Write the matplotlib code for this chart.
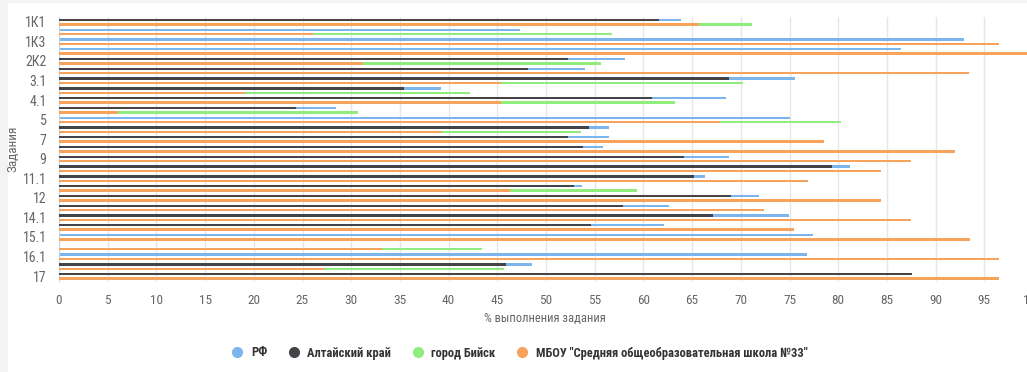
import numpy as np
import matplotlib
matplotlib.use('Agg')
import matplotlib.pyplot as plt
from matplotlib import font_manager
from matplotlib.lines import Line2D
from matplotlib.patches import Rectangle

# pick a narrow / condensed sans face (regular weight preferred) if one is installed
def _is_cond(f):
    return (f.stretch in ('condensed', 'semi-condensed', 'extra-condensed')
            or 'Narrow' in f.name or 'Condensed' in f.name)

def _is_regular(f):
    return f.style == 'normal' and f.weight in (400, 'normal', 'regular', 'book')

cands = [f for f in font_manager.fontManager.ttflist if _is_cond(f)]
cond = None
for pool in ([f for f in cands if _is_regular(f)], cands):
    for pref in ['Liberation Sans Narrow', 'Noto Sans', 'Open Sans', 'Roboto', 'DejaVu Sans']:
        for f in pool:
            if f.name.startswith(pref):
                cond = f
                break
        if cond is not None:
            break
    if cond is not None:
        break
if cond is not None:
    plt.rcParams['font.family'] = [cond.name, 'DejaVu Sans']
    plt.rcParams['font.stretch'] = cond.stretch
    FS = 1.0
else:
    plt.rcParams['font.family'] = ['Roboto', 'DejaVu Sans']
    FS = 0.8

nan = np.nan
categories = ['1К1', '1К2', '1К3', '2К1', '2К2', '2К3', '3.1', '3.2', '4.1', '4.2',
              '5', '6', '7', '8', '9', '10', '11.1', '11.2', '12', '13',
              '14.1', '14.2', '15.1', '15.2', '16.1', '16.2', '17']
rf = [63.9, 47.3, 92.9, 86.4, 58.1, 54.0, 75.6, 39.2, 68.5, 28.4,
      75.0, 56.5, 56.5, 55.9, 68.8, 81.2, 66.3, 53.7, 71.9, 62.6,
      74.9, 62.1, 77.4, nan, 76.8, 48.6, nan]
altai = [61.6, nan, nan, nan, 52.3, 48.2, 68.8, 35.4, 60.9, 24.3,
         nan, 54.4, 52.3, 53.8, 64.2, 79.4, 65.2, 52.9, 69.0, 57.9,
         67.1, 54.6, nan, nan, nan, 45.9, 87.6]
biysk = [71.1, 56.8, nan, nan, 55.6, 55.0, 70.2, 42.2, 63.2, 30.7,
         80.3, 53.6, nan, 55.9, 62.3, 78.9, nan, 59.3, nan, nan,
         nan, nan, 78.9, 43.4, 76.9, 45.7, nan]
school = [65.7, 26.1, 96.5, 100.0, 31.2, 93.4, 45.4, 19.1, 45.4, 6.1,
          67.9, 39.3, 78.5, 92.0, 87.5, 84.4, 76.9, 46.3, 84.4, 72.4,
          87.5, 75.5, 93.5, 33.2, 96.5, 27.2, 96.5]
series_names = ['РФ', 'Алтайский край', 'город Бийск',
                'МБОУ "Средняя общеобразовательная школа №33"']
colors = ['#7cb5ec', '#434348', '#90ed7d', '#f7a35c']
x_ticks = list(range(0, 101, 5))

W, H = 1027, 372
fig = plt.figure(figsize=(W / 100, H / 100), dpi=100)
fig.patch.set_facecolor('white')
fig.add_artist(Rectangle((0, 0), 8 / W, 1, transform=fig.transFigure,
                         facecolor='#f3f3f3', edgecolor='none', zorder=0))
fig.add_artist(Rectangle((0, 1 - 3 / H), 1, 3 / H, transform=fig.transFigure,
                         facecolor='#f3f3f3', edgecolor='none', zorder=0))

left, right, top, bottom = 59, 1033, 17, 281
ax = fig.add_axes([left / W, 1 - bottom / H, (right - left) / W, (bottom - top) / H])
ax.set_facecolor('white')

y = np.arange(len(categories))
h = 0.24
ax.barh(y - 0.2, rf, height=h, color=colors[0], zorder=2)
ax.barh(y - 0.2, altai, height=h, color=colors[1], zorder=3)
ax.barh(y + 0.25, biysk, height=h, color=colors[2], zorder=4)
ax.barh(y + 0.25, school, height=h, color=colors[3], zorder=5)

ax.set_xlim(0, 100)
ax.set_ylim(len(categories) - 0.5, -0.5)
ax.set_xticks(x_ticks)
ax.set_xticklabels([str(t) for t in x_ticks])
ax.set_yticks(y[::2])
ax.set_yticklabels(categories[::2])
ax.grid(axis='x', color='#e6e6e6', linewidth=1, zorder=0)
ax.set_axisbelow(True)
for s in ['top', 'right', 'bottom']:
    ax.spines[s].set_visible(False)
ax.spines['left'].set_color('#ccd6eb')
ax.tick_params(axis='x', length=0, pad=9, labelsize=9.5 * FS, labelcolor='#666666')
ax.tick_params(axis='y', length=0, pad=9, labelsize=10 * FS, labelcolor='#666666')

ax.set_xlabel('% выполнения задания', fontsize=9 * FS, color='#666666')
ax.set_ylabel('Задания', fontsize=9.5 * FS, color='#666666')
ax.xaxis.set_label_coords((545 - left) / (right - left), -(312 - bottom) / (bottom - top))
ax.yaxis.set_label_coords(-(left - 19) / (right - left), 0.5)

handles = [Line2D([0], [0], marker='o', linestyle='none', markersize=7,
                  markerfacecolor=c, markeredgecolor=c) for c in colors]
fig.legend(handles, series_names, loc='center', bbox_to_anchor=(516 / W, 1 - 353 / H),
           ncol=4, frameon=False, handletextpad=0.1, columnspacing=1.1,
           prop={'weight': 'bold', 'size': 9 * FS}, labelcolor='#333333')

fig.savefig('out.png', dpi=100, facecolor='white')
